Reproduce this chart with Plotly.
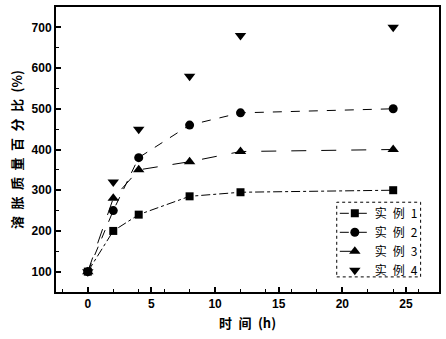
import plotly.graph_objects as go

x = [0, 2, 4, 8, 12, 24]
s1 = [100, 200, 240, 285, 295, 300]
s2 = [100, 250, 380, 460, 490, 500]
s3 = [100, 280, 350, 370, 395, 400]
s4 = [100, 320, 450, 580, 680, 700]
sp = "\u2002"
names = [f"实{sp}例{sp}1", f"实{sp}例{sp}2", f"实{sp}例{sp}3", f"实{sp}例{sp}4"]

fig = go.Figure()
fig.add_trace(go.Scatter(x=x, y=s1, name=names[0], mode="lines+markers",
                         line=dict(color="black", width=1, dash="dashdot"),
                         marker=dict(symbol="square", size=8, color="black")))
fig.add_trace(go.Scatter(x=x, y=s2, name=names[1], mode="lines+markers",
                         line=dict(color="black", width=1, dash="dash"),
                         marker=dict(symbol="circle", size=9, color="black")))
fig.add_trace(go.Scatter(x=x, y=s3, name=names[2], mode="lines+markers",
                         line=dict(color="black", width=1, dash="longdash"),
                         marker=dict(symbol="triangle-up", size=10, color="black")))
fig.add_trace(go.Scatter(x=x, y=s4, name=names[3], mode="markers",
                         marker=dict(symbol="triangle-down", size=10, color="black")))

axis_common = dict(showgrid=False, zeroline=False, showline=True, linecolor="black",
                   linewidth=2, mirror=True, ticks="inside", ticklen=5, tickwidth=1.5,
                   tickcolor="black",
                   tickfont=dict(family="Arial, Liberation Sans", size=12, color="black", weight="bold"),
                   minor=dict(ticks="inside", ticklen=3, tickcolor="black", tickwidth=1))

xtitle = f"时{sp}间{sp}(h)"
ytitle = sp.join(list("溶胀质量百分比")) + sp + "(%)"

fig.update_xaxes(range=[-2.5, 27.6], tickvals=[0, 5, 10, 15, 20, 25], **axis_common,
                 title=dict(text=xtitle, font=dict(family="Noto Sans CJK SC", size=13, color="black", weight="bold"), standoff=8))
fig.update_yaxes(range=[50, 750], tickvals=[100, 200, 300, 400, 500, 600, 700], **axis_common,
                 title=dict(text=ytitle, font=dict(family="Noto Sans CJK SC", size=13, color="black", weight="bold"), standoff=6))

fig.add_shape(type="rect", xref="paper", yref="paper", x0=0.733, x1=0.952, y0=0.053, y1=0.315,
              line=dict(color="black", width=1, dash="dot"))

fig.update_layout(
    width=446, height=339,
    margin=dict(l=56, r=5, t=5, b=47),
    paper_bgcolor="white", plot_bgcolor="white",
    legend=dict(x=0.728, y=0.327, xanchor="left", yanchor="top", bgcolor="rgba(0,0,0,0)",
                font=dict(family="Noto Sans CJK SC", size=12, color="black"),
                tracegroupgap=0, itemwidth=30),
    showlegend=True,
)

fig.write_html("out.html")
